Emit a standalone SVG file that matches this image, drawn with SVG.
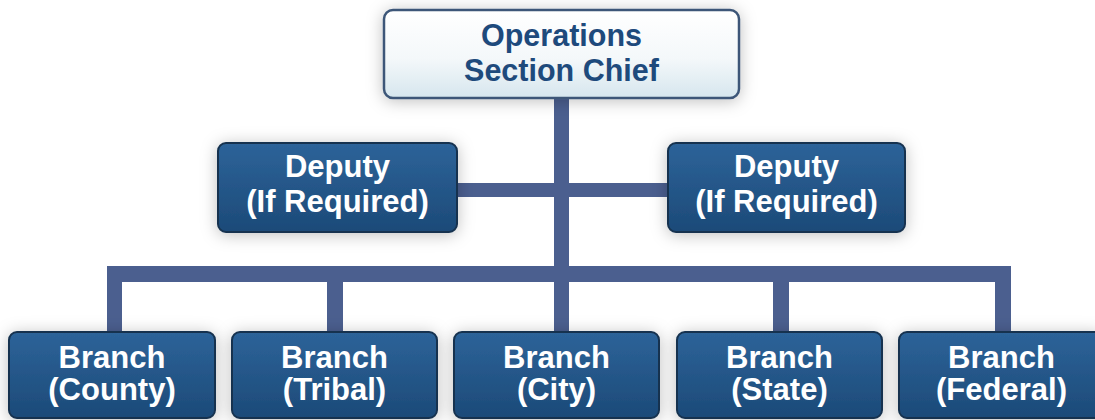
<svg xmlns="http://www.w3.org/2000/svg" width="1095" height="420" viewBox="0 0 1095 420">
  <defs>
    <linearGradient id="gBlue" x1="0" y1="0" x2="0" y2="1">
      <stop offset="0" stop-color="#2d6399"/>
      <stop offset="1" stop-color="#1c4a78"/>
    </linearGradient>
    <linearGradient id="gWhite" x1="0" y1="0" x2="0" y2="1">
      <stop offset="0" stop-color="#ffffff"/>
      <stop offset="0.55" stop-color="#f4f8fa"/>
      <stop offset="1" stop-color="#d6e6ee"/>
    </linearGradient>
    <filter id="shadow" x="-20%" y="-30%" width="140%" height="160%">
      <feDropShadow dx="0" dy="2" stdDeviation="8" flood-color="#000000" flood-opacity="0.25"/>
    </filter>
    <style>
      .conn { fill: #4b5f8f; }
      .box { fill: url(#gBlue); stroke: #17324f; stroke-width: 2; filter: url(#shadow); }
      .topbox { fill: url(#gWhite); stroke: #3d5778; stroke-width: 2.5; filter: url(#shadow); }
      .lbl { font-family: "Liberation Sans", Arial, sans-serif; font-weight: bold; font-size: 31px; text-anchor: middle; fill: #ffffff; }
      .toplbl { font-family: "Liberation Sans", Arial, sans-serif; font-weight: bold; font-size: 30.5px; text-anchor: middle; fill: #1e4a7c; }
    </style>
  </defs>
  <rect x="0" y="0" width="1095" height="420" fill="#ffffff"/>

  <g id="connectors">
    <rect class="conn" x="554" y="96" width="15" height="238"/>
    <rect class="conn" x="455" y="183" width="215" height="14"/>
    <rect class="conn" x="107" y="266" width="904" height="16"/>
    <rect class="conn" x="107" y="266" width="15" height="68"/>
    <rect class="conn" x="327" y="266" width="16" height="68"/>
    <rect class="conn" x="773" y="266" width="16" height="68"/>
    <rect class="conn" x="995" y="266" width="16" height="68"/>
  </g>

  <g id="node-ops-chief">
    <rect class="topbox" x="384" y="10" width="355" height="88" rx="9"/>
    <text class="toplbl" x="561.5" y="46">Operations</text>
    <text class="toplbl" x="561.5" y="81">Section Chief</text>
  </g>

  <g id="node-deputy-left">
    <rect class="box" x="218" y="143" width="239" height="89" rx="8"/>
    <text class="lbl" x="337.5" y="177">Deputy</text>
    <text class="lbl" x="337.5" y="212">(If Required)</text>
  </g>

  <g id="node-deputy-right">
    <rect class="box" x="668" y="143" width="237" height="89" rx="8"/>
    <text class="lbl" x="786.5" y="177">Deputy</text>
    <text class="lbl" x="786.5" y="212">(If Required)</text>
  </g>

  <g id="node-branch-county">
    <rect class="box" x="9" y="332" width="206" height="86" rx="8"/>
    <text class="lbl" x="112" y="368">Branch</text>
    <text class="lbl" x="112" y="400">(County)</text>
  </g>

  <g id="node-branch-tribal">
    <rect class="box" x="232" y="332" width="205" height="86" rx="8"/>
    <text class="lbl" x="334.5" y="368">Branch</text>
    <text class="lbl" x="334.5" y="400">(Tribal)</text>
  </g>

  <g id="node-branch-city">
    <rect class="box" x="454" y="332" width="205" height="86" rx="8"/>
    <text class="lbl" x="556.5" y="368">Branch</text>
    <text class="lbl" x="556.5" y="400">(City)</text>
  </g>

  <g id="node-branch-state">
    <rect class="box" x="677" y="332" width="205" height="86" rx="8"/>
    <text class="lbl" x="779.5" y="368">Branch</text>
    <text class="lbl" x="779.5" y="400">(State)</text>
  </g>

  <g id="node-branch-federal">
    <rect class="box" x="899" y="332" width="205" height="86" rx="8"/>
    <text class="lbl" x="1001.5" y="368">Branch</text>
    <text class="lbl" x="1001.5" y="400">(Federal)</text>
  </g>
</svg>
